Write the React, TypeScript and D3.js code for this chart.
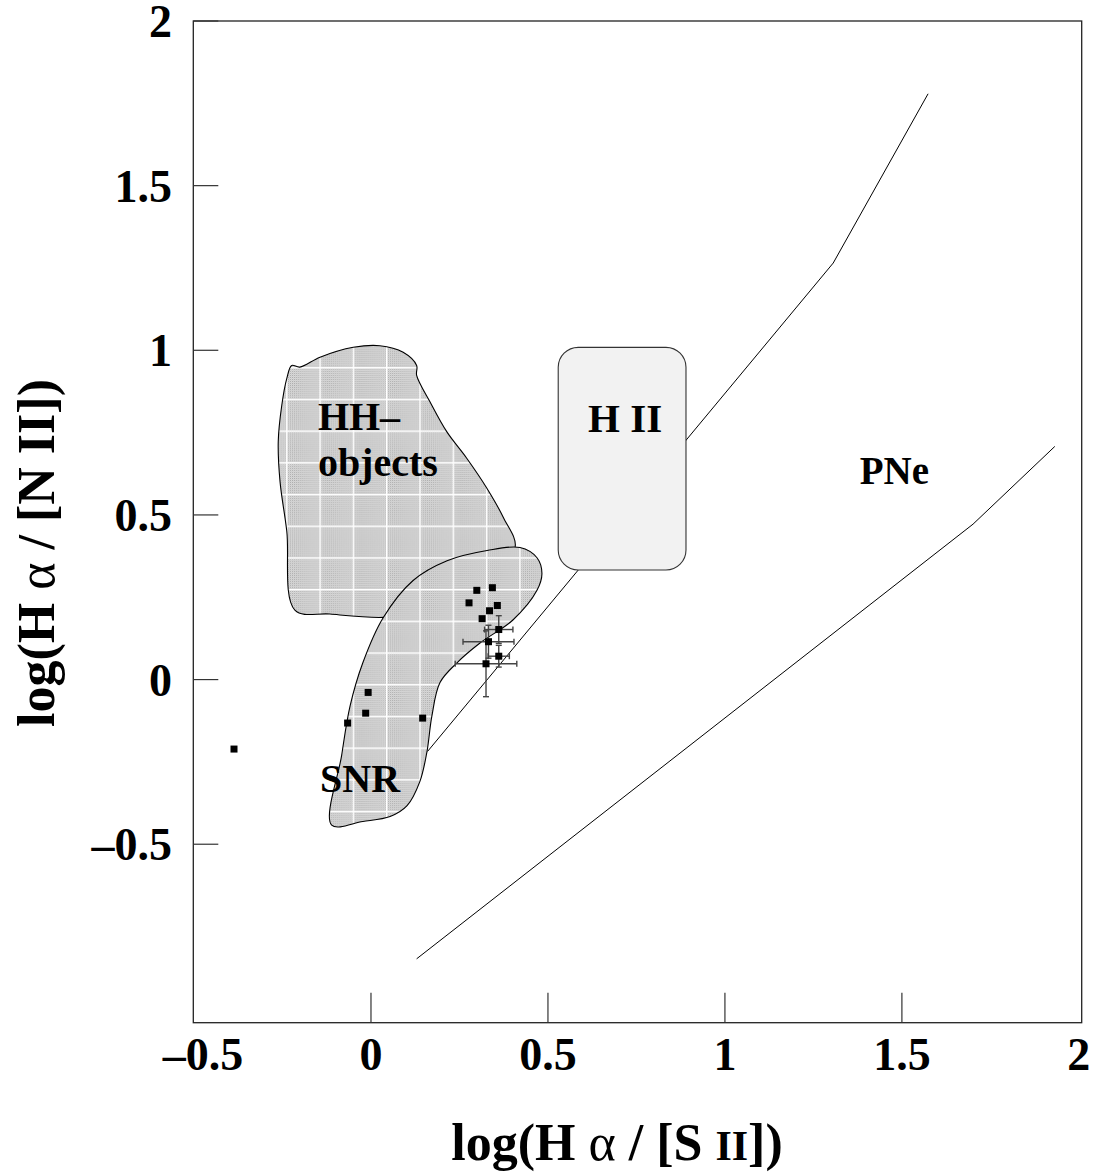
import React from 'react';
import * as d3 from 'd3';

// ---- data ----
const xTickValues = [-0.5, 0, 0.5, 1, 1.5, 2];
const xTickMarkValues = [0, 0.5, 1, 1.5];
const yTickValues = [-0.5, 0, 0.5, 1, 1.5, 2];

// plain observed points [log(Ha/[SII]), log(Ha/[NII])]
const obsX = [-0.387, -0.008, -0.015, -0.066, 0.146, 0.299, 0.343, 0.277, 0.357, 0.335, 0.314];
const obsY = [-0.211, -0.039, -0.102, -0.132, -0.117, 0.271, 0.279, 0.233, 0.225, 0.209, 0.185];

// points with error bars
const errX = [0.361, 0.332, 0.361, 0.325];
const errY = [0.152, 0.115, 0.071, 0.048];
const errXE = [0.040, 0.072, 0.030, 0.087];
const errYE = [0.042, 0.050, 0.033, 0.100];

// HH-objects region outline
const hhRegion: [number, number][] = [
  [-0.224, 0.954], [-0.201, 0.949], [-0.144, 0.979], [-0.05, 1.009], [0.025, 1.014],
  [0.091, 0.994], [0.129, 0.954], [0.129, 0.924], [0.167, 0.843], [0.214, 0.753],
  [0.27, 0.673], [0.327, 0.582], [0.374, 0.492], [0.407, 0.401], [0.308, 0.301],
  [0.138, 0.205], [0.035, 0.189], [-0.116, 0.199], [-0.215, 0.211], [-0.238, 0.452],
  [-0.257, 0.602], [-0.262, 0.723], [-0.252, 0.833], [-0.238, 0.914],
];

// SNR region outline
const snrRegion: [number, number][] = [
  [-0.111, -0.442], [-0.083, -0.231], [-0.059, -0.08], [-0.023, 0.051], [0.034, 0.187],
  [0.119, 0.301], [0.215, 0.361], [0.328, 0.392], [0.421, 0.401], [0.469, 0.37],
  [0.483, 0.322], [0.469, 0.271], [0.401, 0.181], [0.308, 0.111], [0.243, 0.051],
  [0.195, -0.009], [0.172, -0.111], [0.158, -0.22], [0.138, -0.31], [0.102, -0.383],
  [0.054, -0.416], [-0.023, -0.431],
];

// H II box extent
const hiiX = [0.529, 0.89];
const hiiY = [0.333, 1.009];

// boundary lines
const upperLine: [number, number][] = [[0.16, -0.218], [1.306, 1.265], [1.574, 1.779]];
const lowerLine: [number, number][] = [[0.129, -0.848], [1.701, 0.472], [1.932, 0.708]];

const FONT = "'Liberation Serif', 'Times New Roman', serif";

export default function App() {
  const W = 1096, H = 1176;
  const left = 193.3, right = 1081.7, top = 21, bottom = 1022.7;
  const x = d3.scaleLinear().domain([-0.502, 2.008]).range([left, right]);
  const y = d3.scaleLinear().domain([-1.042, 2]).range([bottom, top]);

  const closed = d3.line<[number, number]>()
    .x(d => x(d[0])).y(d => y(d[1]))
    .curve(d3.curveCatmullRomClosed.alpha(0.5));
  const open = d3.line<[number, number]>().x(d => x(d[0])).y(d => y(d[1]));

  const fmt = (v: number) => (v < 0 ? '\u2013' + Math.abs(v) : String(v));
  const ms = 7;

  return (
    <svg width={W} height={H} style={{ position: 'absolute', left: 0, top: 0, background: '#fff' }}
      fontFamily={FONT} fontWeight="bold">
      <defs>
        <pattern id="stip" width="2" height="2" patternUnits="userSpaceOnUse">
          <rect width="2" height="2" fill="#e6e6e6" />
          <rect width="1" height="1" fill="#a8a8a8" />
          <rect x="1" y="1" width="1" height="1" fill="#c4c4c4" />
        </pattern>
        <pattern id="grid" width="33.3" height="31.7" x="319.4" y="557.3" patternUnits="userSpaceOnUse">
          <rect width="33.3" height="31.7" fill="url(#stip)" />
          <rect width="33.3" height="1.4" fill="#fff" />
          <rect width="1.4" height="31.7" fill="#fff" />
        </pattern>
      </defs>

      {/* boundary lines */}
      <path d={open(upperLine) || ''} fill="none" stroke="#000" strokeWidth={1} />
      <path d={open(lowerLine) || ''} fill="none" stroke="#000" strokeWidth={1} />

      {/* regions */}
      <path d={closed(hhRegion) || ''} fill="url(#grid)" stroke="#000" strokeWidth={1.1} />
      <path d={closed(snrRegion) || ''} fill="url(#grid)" stroke="#000" strokeWidth={1.1} />
      <rect x={x(hiiX[0])} y={y(hiiY[1])} width={x(hiiX[1]) - x(hiiX[0])} height={y(hiiY[0]) - y(hiiY[1])}
        rx={20} ry={20} fill="#f2f2f2" stroke="#333" strokeWidth={1.1} />

      {/* error bars */}
      {errX.map((vx, i) => {
        const cx = x(vx), cy = y(errY[i]);
        const x0 = x(vx - errXE[i]), x1 = x(vx + errXE[i]);
        const y0 = y(errY[i] - errYE[i]), y1 = y(errY[i] + errYE[i]);
        return (
          <g key={'e' + i} stroke="#444" strokeWidth={1.4}>
            <line x1={x0} x2={x1} y1={cy} y2={cy} />
            <line x1={x0} x2={x0} y1={cy - 3} y2={cy + 3} />
            <line x1={x1} x2={x1} y1={cy - 3} y2={cy + 3} />
            <line x1={cx} x2={cx} y1={y0} y2={y1} />
            <line x1={cx - 3} x2={cx + 3} y1={y0} y2={y0} />
            <line x1={cx - 3} x2={cx + 3} y1={y1} y2={y1} />
          </g>
        );
      })}

      {/* points */}
      {obsX.map((vx, i) => (
        <rect key={'p' + i} x={x(vx) - ms / 2} y={y(obsY[i]) - ms / 2} width={ms} height={ms} fill="#000" />
      ))}
      {errX.map((vx, i) => (
        <rect key={'q' + i} x={x(vx) - ms / 2} y={y(errY[i]) - ms / 2} width={ms} height={ms} fill="#000" />
      ))}

      {/* frame */}
      <rect x={left} y={top} width={right - left} height={bottom - top} fill="none" stroke="#222" strokeWidth={1.3} />

      {/* ticks */}
      {xTickMarkValues.map(v => (
        <line key={'xt' + v} x1={x(v)} x2={x(v)} y1={bottom} y2={bottom - 30} stroke="#333" strokeWidth={1.2} />
      ))}
      {yTickValues.map(v => (
        <line key={'yt' + v} x1={left} x2={left + 25} y1={y(v)} y2={y(v)} stroke="#333" strokeWidth={1.2} />
      ))}

      {/* tick labels */}
      {xTickValues.map(v => (
        <text key={'xl' + v} x={x(v) + (v < 0 ? 9 : 0)} y={1070} fontSize={46} textAnchor="middle">{fmt(v)}</text>
      ))}
      {yTickValues.map(v => (
        <text key={'yl' + v} x={172} y={y(v) + 16} fontSize={46} textAnchor="end">{fmt(v)}</text>
      ))}

      {/* axis titles */}
      <text x={617} y={1160} fontSize={52} textAnchor="middle">
        log(H <tspan fontWeight="normal">α</tspan> / [S <tspan fontSize={42}>II</tspan>])
      </text>
      <text transform="translate(54,553) rotate(-90)" fontSize={52} textAnchor="middle">
        log(H <tspan fontWeight="normal">α</tspan> / [N II])
      </text>

      {/* region labels */}
      <text x={x(-0.15)} y={y(0.759)} fontSize={40}>HH–</text>
      <text x={x(-0.15)} y={y(0.617)} fontSize={40}>objects</text>
      <text x={x(-0.144)} y={y(-0.34)} fontSize={40}>SNR</text>
      <text x={x(0.718)} y={y(0.753)} fontSize={41} textAnchor="middle">H II</text>
      <text x={x(1.381)} y={y(0.593)} fontSize={39}>PNe</text>
    </svg>
  );
}
